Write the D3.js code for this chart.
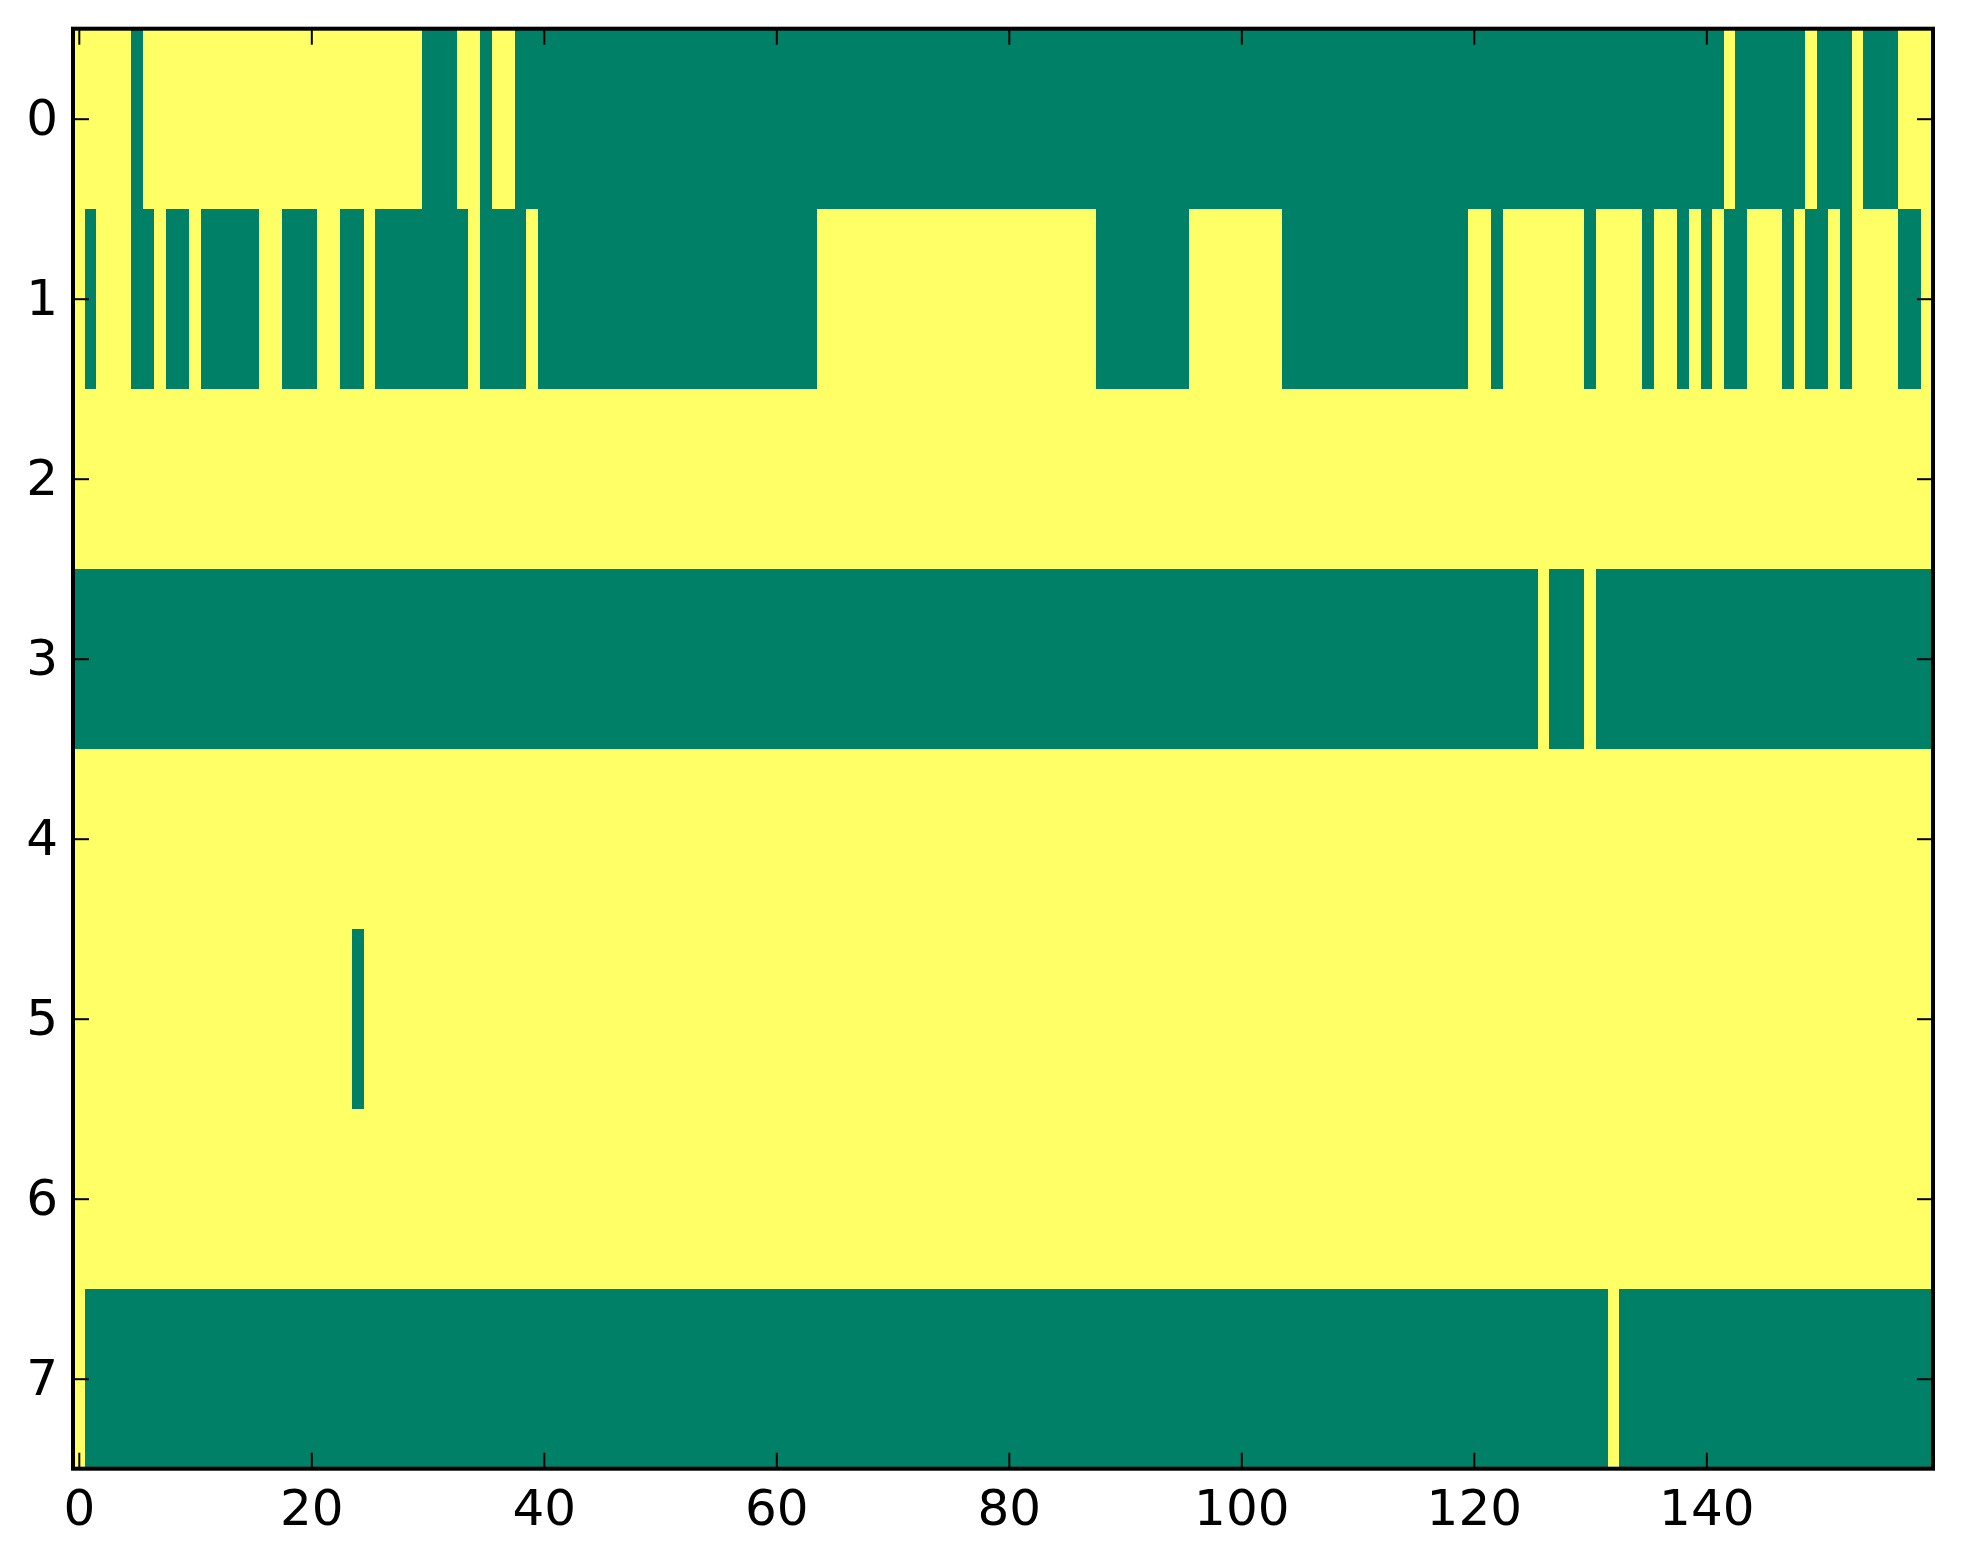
<!DOCTYPE html>
<html>
<head>
<meta charset="utf-8">
<script src="https://cdn.jsdelivr.net/npm/d3@7/dist/d3.min.js"></script>
<style>
  body { margin: 0; background: #fff; }
  svg { display: block; }
  .tick text { font-family: "DejaVu Sans", sans-serif; font-size: 50px; fill: #000; }
  .tick line { stroke: #000; stroke-width: 2; }
</style>
</head>
<body>
<svg id="chart" width="1963" height="1564"></svg>
<script>
// each row as run lengths, alternating values, starting with `first`
// value 1 = yellow (high), 0 = green (low)
const row0 = { first: 1, runs: [5, 1, 24, 3, 2, 1, 2, 104, 1, 6, 1, 3, 1, 3, 3] };
const row1 = { first: 1, runs: [1, 1, 3, 2, 1, 2, 1, 5, 2, 3, 2, 2, 1, 8, 1, 4, 1, 24, 24, 8, 8, 16,
                                2, 1, 7, 1, 4, 1, 2, 1, 1, 1, 1, 2, 3, 1, 1, 2, 1, 1, 4, 2, 1] };
const row2 = { first: 1, runs: [160] };
const row3 = { first: 0, runs: [126, 1, 3, 1, 29] };
const row4 = { first: 1, runs: [160] };
const row5 = { first: 1, runs: [24, 1, 135] };
const row6 = { first: 1, runs: [160] };
const row7 = { first: 1, runs: [1, 131, 1, 27] };

const rows = [row0, row1, row2, row3, row4, row5, row6, row7];
const xTicks = [0, 20, 40, 60, 80, 100, 120, 140];
const yTicks = [0, 1, 2, 3, 4, 5, 6, 7];
const nCols = 160;

// expand run lengths into a flat cell list
const cells = [];
rows.forEach((r, ri) => {
  let v = r.first, c = 0;
  r.runs.forEach(n => {
    for (let k = 0; k < n; k++) cells.push({ row: ri, col: c++, value: v });
    v = 1 - v;
  });
});

const plotLeft = 73, plotRight = 1933, plotTop = 28.7, plotBottom = 1468.7;

const x = d3.scaleLinear().domain([-0.5, nCols - 0.5]).range([plotLeft, plotRight]);
const y = d3.scaleLinear().domain([-0.5, rows.length - 0.5]).range([plotTop, plotBottom]);
const color = d3.scaleLinear().domain([0, 1]).range(["#008066", "#ffff66"]);

const svg = d3.select("#chart");

svg.append("g")
  .selectAll("rect")
  .data(cells)
  .join("rect")
    .attr("x", d => x(d.col - 0.5))
    .attr("y", d => y(d.row - 0.5))
    .attr("width", d => x(d.col + 0.5) - x(d.col - 0.5))
    .attr("height", d => y(d.row + 0.5) - y(d.row - 0.5))
    .attr("fill", d => color(d.value))
    .attr("shape-rendering", "crispEdges");

const tickLen = 16;

svg.append("g")
  .attr("transform", `translate(0,${plotBottom})`)
  .call(d3.axisBottom(x).tickValues(xTicks).tickSize(-tickLen).tickPadding(21))
  .call(g => g.select(".domain").remove());

svg.append("g")
  .attr("transform", `translate(0,${plotTop})`)
  .call(d3.axisTop(x).tickValues(xTicks).tickSize(-tickLen).tickFormat(""))
  .call(g => g.select(".domain").remove());

svg.append("g")
  .attr("transform", `translate(${plotLeft},0)`)
  .call(d3.axisLeft(y).tickValues(yTicks).tickSize(-tickLen).tickPadding(15))
  .call(g => g.select(".domain").remove());

svg.append("g")
  .attr("transform", `translate(${plotRight},0)`)
  .call(d3.axisRight(y).tickValues(yTicks).tickSize(-tickLen).tickFormat(""))
  .call(g => g.select(".domain").remove());

// frame
svg.append("rect")
  .attr("x", plotLeft)
  .attr("y", plotTop)
  .attr("width", plotRight - plotLeft)
  .attr("height", plotBottom - plotTop)
  .attr("fill", "none")
  .attr("stroke", "#000")
  .attr("stroke-width", 4);
</script>
</body>
</html>
